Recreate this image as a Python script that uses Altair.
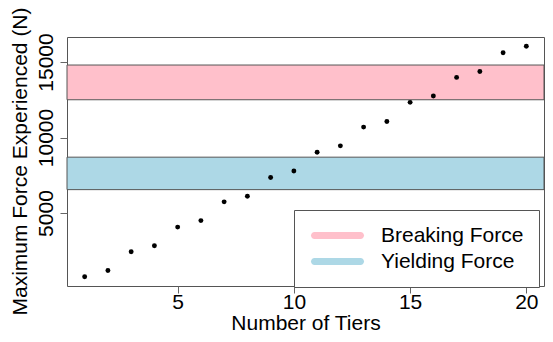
import altair as alt
import pandas as pd

# ---- data ----
tiers = list(range(1, 21))
max_force = [780, 1200, 2440, 2830, 4070, 4500, 5740, 6110, 7350, 7780,
             9020, 9450, 10690, 11060, 12330, 12750, 13980, 14370, 15610, 16040]
band_names = ["Breaking Force", "Yielding Force"]
band_low = [12500, 6550]
band_high = [14800, 8700]
band_colors = ["#FFC0CB", "#ADD8E6"]
x_ticks = [5, 10, 15, 20]
y_ticks = [5000, 10000, 15000]
x_domain = [0.24, 20.76]
y_domain = [170, 16655]

points = pd.DataFrame({"tiers": tiers, "force": max_force})
bands = pd.DataFrame({"name": band_names, "low": band_low, "high": band_high})

FONT = "Liberation Sans"
FS = 21
FRAME = "#555555"
capsule = ("M -0.5 -0.35 L 4.1 -0.35 A 0.35 0.35 0 0 1 4.1 0.35 "
           "L -0.5 0.35 A 0.35 0.35 0 0 1 -0.5 -0.35 Z")

x_scale = alt.Scale(domain=x_domain, nice=False, zero=False)
y_scale = alt.Scale(domain=y_domain, nice=False, zero=False)

x_axis = alt.Axis(
    title="Number of Tiers", values=x_ticks, grid=False, domain=False,
    tickSize=7, tickColor="#666666", labelFont=FONT, labelFontSize=FS,
    labelColor="black", labelBaseline="alphabetic", labelPadding=15,
    labelFlush=False, labelOverlap=False, format="d",
    titleFont=FONT, titleFontSize=FS, titleFontWeight="normal", titleColor="black",
    titleBaseline="alphabetic", titleAlign="center", titleX=238.5, titleY=43,
)
y_axis = alt.Axis(
    title="Maximum Force Experienced (N)", values=y_ticks, grid=False, domain=False,
    tickSize=7, tickColor="#666666", labelFont=FONT, labelFontSize=FS,
    labelColor="black", labelAngle=270, labelAlign="center",
    labelBaseline="alphabetic", labelPadding=7.7, format="d",
    labelFlush=False, labelOverlap=False,
    titleFont=FONT, titleFontSize=FS, titleFontWeight="normal", titleColor="black",
    titleAngle=270, titleBaseline="alphabetic", titleAlign="center",
    titleX=-40.3, titleY=124,
)

legend = alt.Legend(
    title=None, orient="none", legendX=227, legendY=173,
    symbolType=capsule, symbolSize=400, symbolStrokeWidth=0,
    symbolStrokeColor="transparent", symbolOpacity=1,
    labelFont=FONT, labelFontSize=FS, labelColor="black",
    labelOffset=51, rowPadding=4, padding=15,
    fillColor="white", strokeColor=FRAME,
    labelExpr="datum.label + ' '",
)

band_layer = alt.Chart(bands).mark_rect(stroke=FRAME).encode(
    y=alt.Y("low:Q", scale=y_scale, axis=y_axis),
    y2="high:Q",
    color=alt.Color("name:N", scale=alt.Scale(domain=band_names, range=band_colors),
                    legend=legend),
)

point_layer = alt.Chart(points).mark_circle(size=24, color="black", opacity=1).encode(
    x=alt.X("tiers:Q", scale=x_scale, axis=x_axis),
    y=alt.Y("force:Q", scale=y_scale, axis=y_axis),
)

chart = alt.layer(band_layer, point_layer).properties(
    width=477, height=249,
    autosize=alt.AutoSizeParams(type="none"),
    padding={"left": 59, "top": 29, "right": 1, "bottom": 48},
    background="white",
).configure_view(stroke=FRAME, strokeWidth=1)

chart.save("out.html", embed_options={"renderer": "svg", "actions": False})
